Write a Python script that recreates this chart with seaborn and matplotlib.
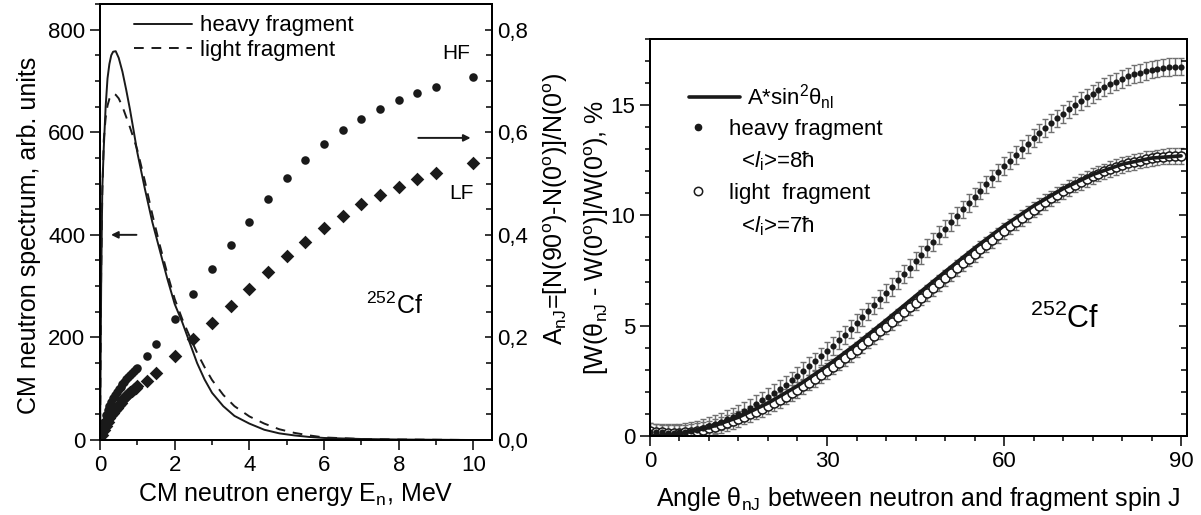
import matplotlib
matplotlib.use("Agg")
import matplotlib.pyplot as plt
from matplotlib.lines import Line2D
from matplotlib.ticker import MultipleLocator
import seaborn as sns

# ---- left panel: CM neutron spectra (arb. units) ----
energy_spec = [0, 0.03, 0.06, 0.1, 0.15, 0.2, 0.25, 0.3, 0.35, 0.42, 0.5, 0.6, 0.7,
               0.8, 0.9, 1.0, 1.2, 1.4, 1.6, 1.8, 2.0, 2.2, 2.4, 2.6, 2.8, 3.0, 3.3,
               3.6, 4.0, 4.4, 4.8, 5.2, 5.6, 6.0, 7.0, 8.0, 9.0, 10.0]
spec_heavy = [0, 300, 490, 570, 650, 705, 733, 750, 757, 758, 745, 718, 683,
              645, 603, 560, 490, 425, 370, 315, 265, 230, 190, 150, 118, 92, 66,
              47, 32, 20, 13, 9, 6, 4, 2, 1, 0.5, 0]
spec_light = [0, 330, 480, 585, 628, 652, 665, 672, 675, 673, 666, 650, 630,
              610, 588, 565, 505, 440, 380, 325, 275, 236, 202, 170, 142, 117, 88,
              66, 46, 32, 21, 14, 9, 5, 2, 1, 0.5, 0]

# ---- left panel: anisotropy A_nJ for heavy (HF) and light (LF) fragments ----
energy_anis = [0.05, 0.1, 0.15, 0.2, 0.25, 0.3, 0.35, 0.4, 0.45, 0.5,
               0.55, 0.6, 0.65, 0.7, 0.75, 0.8, 0.85, 0.9, 0.95, 1.0,
               1.25, 1.5, 2.0, 2.5, 3.0, 3.5, 4.0, 4.5, 5.0, 5.5, 6.0,
               6.5, 7.0, 7.5, 8.0, 8.5, 9.0, 10.0]
anis_hf = [0.018, 0.036, 0.048, 0.058, 0.066, 0.074, 0.081, 0.088, 0.094, 0.099,
           0.104, 0.109, 0.114, 0.119, 0.123, 0.127, 0.131, 0.135, 0.138, 0.141,
           0.163, 0.187, 0.235, 0.285, 0.333, 0.380, 0.426, 0.470, 0.511, 0.545, 0.577,
           0.605, 0.626, 0.645, 0.663, 0.677, 0.689, 0.708]
anis_lf = [0.010, 0.020, 0.028, 0.035, 0.042, 0.048, 0.053, 0.058, 0.063, 0.068,
           0.073, 0.078, 0.082, 0.086, 0.090, 0.093, 0.096, 0.099, 0.102, 0.105,
           0.116, 0.130, 0.163, 0.197, 0.229, 0.261, 0.294, 0.327, 0.358, 0.386, 0.414,
           0.437, 0.460, 0.478, 0.493, 0.509, 0.521, 0.541]

# ---- right panel: angular anisotropy, % ----
theta = list(range(91))
w_heavy = [0.18, 0.16, 0.16, 0.15, 0.15, 0.16, 0.19, 0.23, 0.29, 0.37,
           0.45, 0.55, 0.65, 0.76, 0.88, 1.01, 1.15, 1.29, 1.44, 1.61,
           1.77, 1.95, 2.13, 2.32, 2.52, 2.73, 2.94, 3.16, 3.38, 3.61,
           3.85, 4.09, 4.34, 4.59, 4.85, 5.11, 5.38, 5.65, 5.92, 6.20,
           6.48, 6.77, 7.06, 7.34, 7.63, 7.93, 8.22, 8.51, 8.80, 9.10,
           9.40, 9.69, 9.98, 10.27, 10.56, 10.84, 11.13, 11.41, 11.68, 11.95,
           12.23, 12.49, 12.75, 13.00, 13.25, 13.50, 13.73, 13.96, 14.19, 14.40,
           14.61, 14.81, 15.00, 15.18, 15.35, 15.52, 15.67, 15.82, 15.95, 16.07,
           16.20, 16.30, 16.40, 16.47, 16.55, 16.61, 16.66, 16.70, 16.73, 16.75,
           16.75]
w_light = [0.24, 0.20, 0.17, 0.15, 0.15, 0.15, 0.17, 0.19, 0.22, 0.28,
           0.35, 0.42, 0.50, 0.59, 0.68, 0.78, 0.88, 0.99, 1.11, 1.23,
           1.36, 1.50, 1.64, 1.78, 1.94, 2.09, 2.25, 2.42, 2.59, 2.77,
           2.95, 3.14, 3.33, 3.52, 3.72, 3.91, 4.12, 4.32, 4.53, 4.75,
           4.96, 5.17, 5.39, 5.61, 5.83, 6.05, 6.27, 6.49, 6.72, 6.94,
           7.16, 7.38, 7.61, 7.83, 8.04, 8.26, 8.47, 8.68, 8.89, 9.10,
           9.30, 9.50, 9.70, 9.88, 10.07, 10.26, 10.43, 10.61, 10.77, 10.94,
           11.09, 11.24, 11.39, 11.52, 11.65, 11.78, 11.89, 12.00, 12.10, 12.20,
           12.28, 12.36, 12.43, 12.49, 12.55, 12.59, 12.63, 12.67, 12.69, 12.70,
           12.70]
err_heavy = 0.4
err_light = 0.35
theta_fit = [0, 5, 10, 15, 20, 25, 30, 35, 40, 45, 50, 55, 60, 65, 70, 75, 80, 85, 90]
w_fit = [0, 0.10, 0.38, 0.85, 1.49, 2.27, 3.18, 4.18, 5.25, 6.35,
         7.45, 8.52, 9.53, 10.43, 11.21, 11.85, 12.32, 12.60, 12.70]

sns.set_theme(style="ticks")
plt.rcParams['font.family'] = ['Liberation Sans', 'DejaVu Sans']
plt.rcParams['mathtext.fontset'] = 'custom'
plt.rcParams['mathtext.rm'] = 'Liberation Sans'
plt.rcParams['mathtext.it'] = 'Liberation Sans:italic'
plt.rcParams['mathtext.bf'] = 'Liberation Sans:bold'
plt.rcParams['axes.linewidth'] = 1.4
plt.rcParams['axes.edgecolor'] = 'black'
plt.rcParams['text.color'] = 'black'
plt.rcParams['axes.labelcolor'] = 'black'
plt.rcParams['xtick.color'] = 'black'
plt.rcParams['ytick.color'] = 'black'

TICK = 16
LABEL = 18

fig = plt.figure(figsize=(12.01, 5.15), dpi=100)
ax = fig.add_axes([0.0833, 0.1456, 0.3264, 0.8466])
ax_r = fig.add_axes([0.5412, 0.1534, 0.4471, 0.7709])

# ---------------- left panel ----------------
sns.lineplot(x=energy_spec, y=spec_heavy, ax=ax, color='k', lw=1.4, sort=False)
sns.lineplot(x=energy_spec, y=spec_light, ax=ax, color='k', lw=1.4, sort=False)
ax.lines[1].set_dashes((5, 4))

ax.set_xlim(0, 10.5)
ax.set_ylim(0, 850)
ax.set_xticks([0, 2, 4, 6, 8, 10])
ax.xaxis.set_minor_locator(MultipleLocator(1))
ax.set_yticks([0, 200, 400, 600, 800])
ax.yaxis.set_minor_locator(MultipleLocator(50))
ax.tick_params(which='both', direction='out', top=False, right=False,
               labelsize=TICK, width=1.1)
ax.tick_params(which='major', length=7)
ax.tick_params(which='minor', length=3.5)
ax.set_xlabel('CM neutron energy E$_\\mathrm{n}$, MeV', fontsize=LABEL)
ax.set_ylabel('CM neutron spectrum, arb. units', fontsize=LABEL)
ax.yaxis.set_label_coords(-0.15, 0.47)

ax.legend(handles=[Line2D([], [], color='k', lw=1.4),
                   Line2D([], [], color='k', lw=1.4, dashes=(5, 4))],
          labels=['heavy fragment', 'light fragment'],
          loc='upper left', bbox_to_anchor=(0.035, 1.02), frameon=False,
          fontsize=16, handlelength=2.6, handletextpad=0.4,
          labelspacing=0.15)

ax.annotate('', xy=(0.22, 400), xytext=(1.05, 400),
            arrowprops=dict(arrowstyle='-|>', color='k', lw=1.4, mutation_scale=10))
ax.text(7.9, 262, '$^{252}$Cf', fontsize=18, ha='center', va='center')

ax2 = ax.twinx()
sns.scatterplot(x=energy_anis, y=anis_hf, ax=ax2, marker='o', s=38, color='k', linewidth=0)
sns.scatterplot(x=energy_anis, y=anis_lf, ax=ax2, marker='D', s=48, color='k', linewidth=0)
ax2.set_ylim(0, 0.85)
ax2.set_yticks([0, 0.2, 0.4, 0.6, 0.8])
ax2.set_yticklabels(['0,0', '0,2', '0,4', '0,6', '0,8'])
ax2.yaxis.set_minor_locator(MultipleLocator(0.05))
ax2.tick_params(axis='y', which='both', direction='in', labelsize=TICK, width=1.1)
ax2.tick_params(axis='y', which='major', length=5)
ax2.tick_params(axis='y', which='minor', length=4)
ax2.set_ylabel('A$_\\mathrm{nJ}$=[N(90$^\\mathrm{o}$)-N(0$^\\mathrm{o}$)]/N(0$^\\mathrm{o}$)',
               fontsize=LABEL)
ax2.yaxis.set_label_coords(1.125, 0.53)
ax2.annotate('', xy=(10.0, 0.589), xytext=(8.45, 0.589),
             arrowprops=dict(arrowstyle='-|>', color='k', lw=1.4, mutation_scale=10))
ax2.text(9.53, 0.754, 'HF', fontsize=15, ha='center', va='center')
ax2.text(9.68, 0.481, 'LF', fontsize=15, ha='center', va='center')

# ---------------- right panel ----------------
ax_r.errorbar(theta, w_light, yerr=err_light, fmt='none', ecolor='#707070',
              elinewidth=1, capsize=2.5, capthick=1, zorder=1)
ax_r.errorbar(theta, w_heavy, yerr=err_heavy, fmt='none', ecolor='#707070',
              elinewidth=1, capsize=2.5, capthick=1, zorder=1)
sns.scatterplot(x=theta, y=w_light, ax=ax_r, marker='o', s=42, color='white',
                edgecolor='k', linewidth=1.1, zorder=3)
sns.lineplot(x=theta_fit, y=w_fit, ax=ax_r, color='k', lw=2.6, zorder=4)
sns.scatterplot(x=theta, y=w_heavy, ax=ax_r, marker='o', s=20, color='k',
                linewidth=0, zorder=5)

ax_r.set_xlim(0, 91)
ax_r.set_ylim(0, 18)
ax_r.set_xticks([0, 30, 60, 90])
ax_r.xaxis.set_minor_locator(MultipleLocator(5))
ax_r.set_yticks([0, 5, 10, 15])
ax_r.yaxis.set_minor_locator(MultipleLocator(1))
ax_r.tick_params(which='both', direction='out', top=False, right=False,
                 labelsize=TICK, width=1.1)
ax_r.tick_params(which='major', length=7)
ax_r.tick_params(which='minor', length=3.5)
ax_r.set_xlabel('Angle θ$_\\mathrm{nJ}$ between neutron and fragment spin J',
                fontsize=LABEL, labelpad=10)
ax_r.set_ylabel('[W(θ$_\\mathrm{nJ}$ - W(0$^\\mathrm{o}$)]/W(0$^\\mathrm{o}$), %', fontsize=LABEL)
ax_r.yaxis.set_label_coords(-0.073, 0.5)
ax_r.text(70.3, 5.3, '$^{252}$Cf', fontsize=22, ha='center', va='center')

ax_r2 = ax_r.twinx()
ax_r2.set_ylim(0, 18)
ax_r2.set_yticks([0, 5, 10, 15])
ax_r2.yaxis.set_minor_locator(MultipleLocator(1))
ax_r2.tick_params(axis='y', which='both', direction='in', labelright=False, width=1.1)
ax_r2.tick_params(axis='y', which='major', length=6)
ax_r2.tick_params(axis='y', which='minor', length=4)

leg1 = ax_r2.legend(handles=[Line2D([], [], color='k', lw=2.6)],
                    labels=['A*sin$^2$θ$_\\mathrm{nl}$'],
                    loc='upper left', bbox_to_anchor=(0.035, 0.94), frameon=False,
                    fontsize=16, handlelength=2.3, handletextpad=0.3)
ax_r2.add_artist(leg1)
blank = Line2D([], [], ls='none')
ax_r2.legend(handles=[Line2D([], [], ls='none', marker='o', ms=4.5, color='k'),
                      blank,
                      Line2D([], [], ls='none', marker='o', ms=6, mfc='white', mec='k', mew=1.1),
                      blank],
             labels=['heavy fragment', '  <$l_\\mathrm{i}$>=8ħ',
                     'light  fragment', '  <$l_\\mathrm{i}$>=7ħ'],
             loc='upper left', bbox_to_anchor=(0.035, 0.85), frameon=False,
             fontsize=16, handlelength=0.8, handletextpad=1.0, labelspacing=0.45)

fig.savefig('out.png', dpi=100)
